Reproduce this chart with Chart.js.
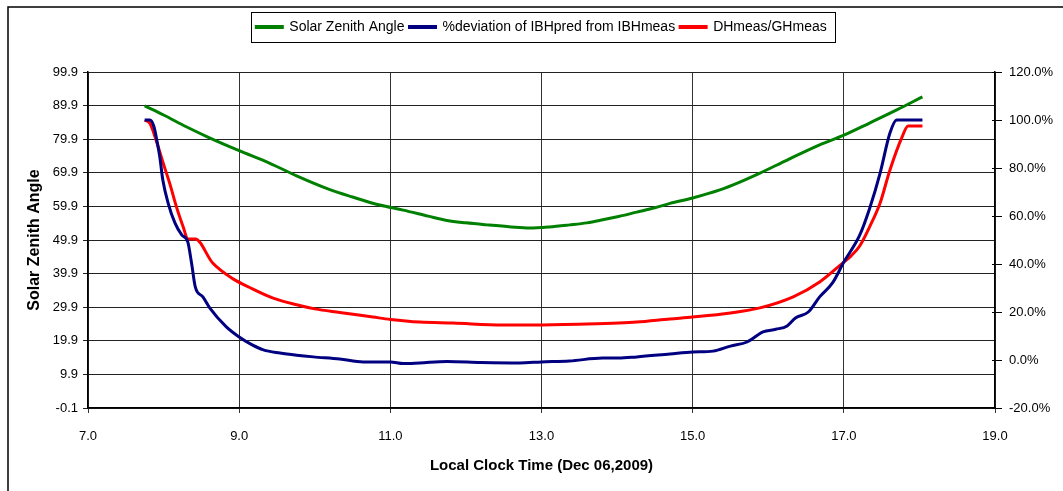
<!DOCTYPE html>
<html lang="en">
<head>
    <meta charset="UTF-8">
    <title>Solar Zenith Angle</title>
    <script src="https://cdn.jsdelivr.net/npm/chart.js"></script>
    <style>
        body { margin: 0; background: #fff; }
        #wrap { position: relative; width: 1063px; height: 491px; }
    </style>
</head>
<body>

<div id="wrap">
    <canvas id="zenithChart" width="1063" height="491"></canvas>
</div>

<script>
    // Solar zenith angle (left axis, degrees)
    const zenithTime = [7.75, 8.0, 8.3, 8.6, 9.0, 9.4, 9.76, 10.2, 10.5, 10.86, 11.17, 11.5, 11.75, 12.0, 12.28, 12.6, 12.84,
        13.1, 13.37, 13.6, 13.81, 14.02, 14.26, 14.5, 14.7, 15.0, 15.36, 15.6, 15.89, 16.25, 16.68, 17.0, 17.34, 17.7, 18.04];
    const zenithAngle = [89.8, 87.1, 83.6, 80.4, 76.5, 72.8, 69.0, 64.9, 62.7, 60.3, 58.8, 57.0, 55.7, 55.0, 54.4, 53.8, 53.5,
        53.8, 54.4, 55.0, 55.9, 56.9, 58.2, 59.5, 60.8, 62.4, 64.8, 66.9, 69.8, 73.7, 78.2, 81.1, 84.7, 88.6, 92.5];

    // %deviation of IBHpred from IBHmeas (right axis, %)
    const devTime = [7.75, 7.82, 7.87, 7.91, 7.95, 7.99, 8.06, 8.15, 8.24, 8.32, 8.37, 8.42, 8.52, 8.61, 8.83, 9.0, 9.16, 9.32,
        9.54, 9.76, 9.98, 10.33, 10.64, 11.0, 11.17, 11.39, 11.75, 12.2, 12.71, 13.0, 13.37, 13.81, 14.02, 14.26, 14.7, 15.0,
        15.27, 15.5, 15.72, 15.93, 16.1, 16.25, 16.36, 16.53, 16.68, 16.85, 17.0, 17.21, 17.34, 17.48, 17.61, 17.7, 18.04];
    const devPct = [100.0, 100.0, 97.5, 91.7, 84.6, 75.0, 65.4, 57.1, 52.1, 49.2, 40.4, 30.4, 26.3, 21.7, 13.8, 9.6, 6.5, 4.2,
        2.9, 2.0, 1.3, 0.4, -0.8, -0.8, -1.5, -1.2, -0.6, -1.0, -1.2, -0.8, -0.4, 0.8, 0.8, 1.3, 2.5, 3.3,
        3.7, 5.8, 7.5, 11.7, 12.8, 14.2, 17.5, 20.0, 26.3, 32.1, 40.8, 52.0, 63.0, 77.9, 94.6, 100.0, 100.0];

    // DHmeas/GHmeas (right axis, %)
    const ratioTime = [7.75, 7.82, 7.9, 7.99, 8.08, 8.17, 8.26, 8.32, 8.42, 8.65, 8.92, 9.14, 9.45, 9.76, 10.0, 10.33,
        10.77, 11.0, 11.39, 11.83, 12.49, 12.9, 13.6, 14.02, 14.26, 14.7, 15.0, 15.5, 15.89, 16.33, 16.68, 17.0, 17.1, 17.21,
        17.34, 17.48, 17.61, 17.77, 17.85, 18.04];
    const ratioPct = [100.0, 98.5, 91.7, 82.5, 73.7, 63.8, 55.4, 50.4, 50.4, 40.4, 33.8, 30.2, 25.8, 23.0, 21.3, 19.8,
        17.9, 16.9, 15.8, 15.4, 14.6, 14.6, 15.0, 15.4, 15.8, 17.1, 17.9, 19.6, 21.7, 26.3, 32.5, 40.8, 43.5, 47.5,
        55.4, 65.4, 79.2, 92.9, 97.5, 97.5];

    const toPoints = (xs, ys) => xs.map((x, i) => ({x: x, y: ys[i]}));

    const FONT = "'Liberation Sans', Arial, sans-serif";

    // page background, outer frame, legend box, inner half of right ticks
    const decor = {
        id: 'decor',
        beforeInit(chart) {
            const fit = chart.legend.fit;
            chart.legend.fit = function () {
                fit.call(this);
                this.height = 57;
            };
        },
        beforeDraw(chart) {
            const ctx = chart.ctx;
            ctx.save();
            ctx.fillStyle = '#fff';
            ctx.fillRect(0, 0, chart.width, chart.height);
            ctx.strokeStyle = '#000';
            ctx.lineWidth = 1.5;
            ctx.beginPath();
            ctx.moveTo(8, chart.height + 2);
            ctx.lineTo(8, 7);
            ctx.lineTo(chart.width + 2, 7);
            ctx.stroke();
            ctx.restore();
        },
        afterDraw(chart) {
            const ctx = chart.ctx;
            const boxes = chart.legend.legendHitBoxes;
            const l = Math.min(...boxes.map(b => b.left)) - 5;
            const r = Math.max(...boxes.map(b => b.left + b.width)) + 9;
            ctx.save();
            ctx.strokeStyle = '#000';
            ctx.lineWidth = 1;
            ctx.strokeRect(Math.round(l) + 0.5, 12.5, Math.round(r - l), 30);
            const yr = chart.scales.y1;
            ctx.beginPath();
            yr.ticks.forEach(t => {
                const y = Math.round(yr.getPixelForValue(t.value)) + 0.5;
                ctx.moveTo(yr.left - 3, y);
                ctx.lineTo(yr.left, y);
            });
            ctx.stroke();
            ctx.restore();
        }
    };

    const ctx = document.getElementById('zenithChart').getContext('2d');
    new Chart(ctx, {
        type: 'line',
        data: {
            datasets: [{
                label: 'Solar Zenith Angle',
                data: toPoints(zenithTime, zenithAngle),
                yAxisID: 'y',
                borderColor: '#008000',
                backgroundColor: '#008000',
                borderWidth: 3,
                pointRadius: 0,
                cubicInterpolationMode: 'monotone'
            }, {
                label: '%deviation of IBHpred from IBHmeas',
                data: toPoints(devTime, devPct),
                yAxisID: 'y1',
                borderColor: '#000080',
                backgroundColor: '#000080',
                borderWidth: 3,
                pointRadius: 0,
                cubicInterpolationMode: 'monotone'
            }, {
                label: 'DHmeas/GHmeas',
                data: toPoints(ratioTime, ratioPct),
                yAxisID: 'y1',
                borderColor: '#ff0000',
                backgroundColor: '#ff0000',
                borderWidth: 3,
                pointRadius: 0,
                cubicInterpolationMode: 'monotone'
            }]
        },
        options: {
            responsive: false,
            animation: false,
            devicePixelRatio: 1,
            layout: { padding: { top: 15, left: 0, right: 0, bottom: 0 } },
            plugins: {
                legend: {
                    position: 'top',
                    fullSize: false,
                    labels: {
                        boxWidth: 26,
                        boxHeight: 1,
                        padding: 5,
                        color: '#000',
                        font: { family: FONT, size: 14 }
                    }
                },
                tooltip: { enabled: false }
            },
            scales: {
                x: {
                    type: 'linear',
                    position: 'bottom',
                    min: 7,
                    max: 19,
                    afterFit: s => { s.height = 83; },
                    ticks: {
                        stepSize: 2,
                        padding: 16,
                        color: '#000',
                        font: { family: FONT, size: 13 },
                        callback: v => v.toFixed(1)
                    },
                    grid: { color: '#333', tickLength: 5 },
                    border: { color: '#000', width: 1.5 },
                    title: {
                        display: true,
                        text: 'Local Clock Time (Dec 06,2009)',
                        color: '#000',
                        font: { family: FONT, size: 15, weight: 'bold' },
                        padding: { top: 0, bottom: 16 }
                    }
                },
                y: {
                    position: 'left',
                    min: -0.1,
                    max: 99.9,
                    afterFit: s => { s.width = 88; },
                    ticks: {
                        stepSize: 10,
                        padding: 5,
                        color: '#000',
                        font: { family: FONT, size: 13 },
                        callback: v => v.toFixed(1)
                    },
                    grid: { color: '#222', tickLength: 5 },
                    border: { color: '#000', width: 1.5 },
                    title: {
                        display: true,
                        text: 'Solar Zenith Angle',
                        color: '#000',
                        font: { family: FONT, size: 16, weight: 'bold' },
                        padding: { top: 25, bottom: 0 }
                    }
                },
                y1: {
                    position: 'right',
                    min: -20,
                    max: 120,
                    afterFit: s => { s.width = 68; },
                    ticks: {
                        stepSize: 20,
                        padding: 7,
                        color: '#000',
                        font: { family: FONT, size: 13 },
                        callback: v => v.toFixed(1) + '%'
                    },
                    grid: { drawOnChartArea: false, color: '#000', tickLength: 7 },
                    border: { color: '#000', width: 1.5 }
                }
            }
        },
        plugins: [decor]
    });
</script>

</body>
</html>
